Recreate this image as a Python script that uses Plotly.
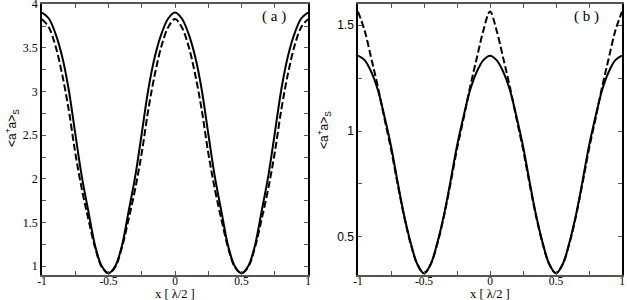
import plotly.graph_objects as go

# ---- data ----
x = [round(-1 + 0.05 * k, 2) for k in range(41)]

solid_a = [3.906, 3.84, 3.67, 3.41, 3.03, 2.52, 2.02, 1.62, 1.23, 1.00, 0.92,
           1.00, 1.23, 1.62, 2.02, 2.52, 3.03, 3.41, 3.67, 3.84, 3.906,
           3.84, 3.67, 3.41, 3.03, 2.52, 2.02, 1.62, 1.23, 1.00, 0.92,
           1.00, 1.23, 1.62, 2.02, 2.52, 3.03, 3.41, 3.67, 3.84, 3.906]
dashed_a = [3.83, 3.74, 3.53, 3.21, 2.80, 2.30, 1.88, 1.53, 1.21, 0.99, 0.92,
            0.99, 1.21, 1.53, 1.88, 2.30, 2.80, 3.21, 3.53, 3.74, 3.83,
            3.74, 3.53, 3.21, 2.80, 2.30, 1.88, 1.53, 1.21, 0.99, 0.92,
            0.99, 1.21, 1.53, 1.88, 2.30, 2.80, 3.21, 3.53, 3.74, 3.83]
solid_b = [1.356, 1.335, 1.28, 1.195, 1.07, 0.93, 0.76, 0.60, 0.47, 0.37, 0.328,
           0.37, 0.47, 0.60, 0.76, 0.93, 1.07, 1.195, 1.28, 1.335, 1.356,
           1.335, 1.28, 1.195, 1.07, 0.93, 0.76, 0.60, 0.47, 0.37, 0.328,
           0.37, 0.47, 0.60, 0.76, 0.93, 1.07, 1.195, 1.28, 1.335, 1.356]
dashed_b = [1.564, 1.475, 1.345, 1.21, 1.06, 0.915, 0.75, 0.595, 0.465, 0.37, 0.328,
            0.37, 0.465, 0.595, 0.75, 0.915, 1.06, 1.21, 1.345, 1.475, 1.564,
            1.475, 1.345, 1.21, 1.06, 0.915, 0.75, 0.595, 0.465, 0.37, 0.328,
            0.37, 0.465, 0.595, 0.75, 0.915, 1.06, 1.21, 1.345, 1.475, 1.564]

x_tickvals = [-1, -0.5, 0, 0.5, 1]
x_ticktext = ["-1", "-0.5", "0", "0.5", "1"]
x_minor = [-0.75, -0.25, 0.25, 0.75]
ya_tickvals = [1, 1.5, 2, 2.5, 3, 3.5, 4]
ya_ticktext = ["1", "1.5", "2", "2.5", "3", "3.5", "4"]
ya_minor = [1.25, 1.75, 2.25, 2.75, 3.25, 3.75]
yb_tickvals = [0.5, 1, 1.5]
yb_ticktext = ["0.5", "1", "1.5"]
yb_minor = [0.75, 1.25]

serif = "Liberation Serif"
sans = "Liberation Sans"

fig = go.Figure()
line_solid = dict(color="black", width=2, shape="spline", smoothing=1.0)
line_dash = dict(color="black", width=2, dash="7px,3px", shape="spline", smoothing=1.0)

fig.add_trace(go.Scatter(x=x, y=solid_a, mode="lines", line=line_solid, xaxis="x", yaxis="y", showlegend=False))
fig.add_trace(go.Scatter(x=x, y=dashed_a, mode="lines", line=line_dash, xaxis="x", yaxis="y", showlegend=False))
fig.add_trace(go.Scatter(x=x, y=solid_b, mode="lines", line=line_solid, xaxis="x2", yaxis="y2", showlegend=False))
fig.add_trace(go.Scatter(x=x, y=dashed_b, mode="lines", line=line_dash, xaxis="x2", yaxis="y2", showlegend=False))

W, H = 627, 300
ydom = [25 / H, 296 / H]

def xaxis_style(domain, anchor):
    return dict(domain=domain, anchor=anchor, range=[-1, 1],
                tickvals=x_tickvals, ticktext=x_ticktext,
                minor=dict(tickvals=x_minor, ticks="inside", ticklen=4, tickcolor="#555"),
                ticks="inside", ticklen=4, tickcolor="#555", showline=True,
                linecolor="#555", linewidth=1.5, mirror="allticks",
                showgrid=False, zeroline=False, automargin=False,
                ticklabelstandoff=-6, ticklabeloverflow="allow",
                tickfont=dict(family=serif, size=11.5, color="black"))

def yaxis_style(domain, anchor, rng, tv, tt, mv, fam):
    return dict(domain=domain, anchor=anchor, range=rng,
                tickvals=tv, ticktext=tt,
                minor=dict(tickvals=mv, ticks="inside", ticklen=4, tickcolor="#555"),
                ticks="inside", ticklen=4, tickcolor="#555", showline=True,
                linecolor="black", linewidth=1.5, mirror="allticks",
                showgrid=False, zeroline=False, automargin=False,
                ticklabeloverflow="allow",
                tickfont=dict(family=fam, size=12, color="black"))

fig.update_layout(
    width=W, height=H,
    margin=dict(l=0, r=0, t=0, b=0),
    paper_bgcolor="white", plot_bgcolor="white",
    xaxis=xaxis_style([42 / W, 308 / W], "y"),
    xaxis2=xaxis_style([358 / W, 622 / W], "y2"),
    yaxis=yaxis_style(ydom, "x", [0.9, 4.003], ya_tickvals, ya_ticktext, ya_minor, serif),
    yaxis2=yaxis_style(ydom, "x2", [0.32, 1.6], yb_tickvals, yb_ticktext, yb_minor, sans),
)

ytitle = "&lt;a<sup>+</sup>a&gt;<sub>S</sub>"
xtitle = "x [ λ/2 ]"
ann = [
    dict(x=12 / W, y=1 - 128 / H, text=ytitle, textangle=-90,
         font=dict(family=sans, size=12, color="black")),
    dict(x=324 / W, y=1 - 130 / H, text=ytitle, textangle=-90,
         font=dict(family=sans, size=12, color="black")),
    dict(x=175 / W, y=1 - 294 / H, text=xtitle,
         font=dict(family=serif, size=12.5, color="black")),
    dict(x=490 / W, y=1 - 294 / H, text=xtitle,
         font=dict(family=serif, size=12.5, color="black")),
    dict(x=274 / W, y=1 - 17 / H, text="( a )",
         font=dict(family=serif, size=15, color="black")),
    dict(x=586 / W, y=1 - 17 / H, text="( b )",
         font=dict(family=serif, size=15, color="black")),
]
for a in ann:
    a.update(xref="paper", yref="paper", showarrow=False, xanchor="center", yanchor="middle")
fig.update_layout(annotations=ann)

fig.write_html("out.html", config={"displayModeBar": False},
               post_script="document.body.style.margin='0px';document.body.style.overflow='hidden';")
